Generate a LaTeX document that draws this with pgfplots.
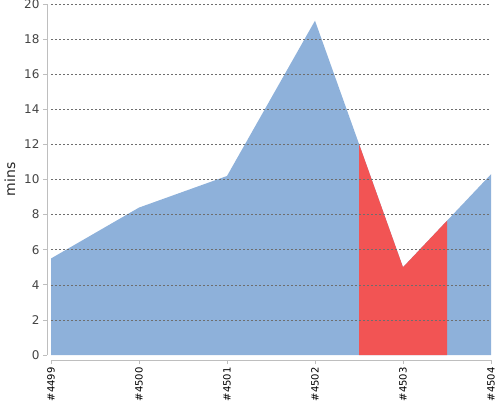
\documentclass[border=0pt]{standalone}
\usepackage{pgfplots}
\pgfplotsset{compat=1.18}
\usepackage{fontspec}
\setmainfont{DejaVu Sans}
\setsansfont{DejaVu Sans}
\definecolor{areablue}{RGB}{142,177,218}
\definecolor{areared}{RGB}{242,84,84}
\definecolor{axgray}{RGB}{190,190,190}
\definecolor{ticktext}{RGB}{68,68,68}
\definecolor{gridgray}{RGB}{110,110,110}
\begin{document}
\begin{tikzpicture}
\begin{axis}[
  name=ax,
  scale only axis,
  width=440bp, height=351bp,
  xmin=0, xmax=5, ymin=0, ymax=20,
  axis lines=left,
  axis x line shift=5bp,
  axis y line shift=4bp,
  axis line style={axgray, line width=0.8pt, -},
  xtick={0,1,2,3,4,5},
  xticklabels={\#4499,\#4500,\#4501,\#4502,\#4503,\#4504},
  x tick label style={rotate=90, anchor=east, font=\fontsize{10bp}{12bp}\selectfont, black},
  ytick={2,4,...,20},
  extra y ticks={0},
  extra y tick style={grid=none},
  y tick label style={font=\fontsize{12bp}{14bp}\selectfont, ticktext},
  /pgf/number format/assume math mode=true,
  tick style={axgray, line width=0.8pt},
  major tick length=4bp,
  tick align=outside,
  ymajorgrids,
  major grid style={gridgray, line width=0.5pt, dash pattern=on 2bp off 2bp},
  ylabel={mins},
  ylabel style={font=\fontsize{14bp}{16bp}\selectfont, black!85, at={(axis description cs:-0.073,0.5)}, anchor=south},
  axis on top,
  clip=false,
]
\addplot[draw=none, fill=areablue] coordinates {
 (0,0) (0,5.5) (1,8.4) (2,10.2) (3,19.05) (4,5.0) (5,10.3) (5,0)
} -- cycle;
\addplot[draw=none, fill=areared] coordinates {
 (3.5,0) (3.5,12.03) (4,5.0) (4.5,7.65) (4.5,0)
} -- cycle;
\end{axis}
\pgfresetboundingbox
\path ([xshift=-51bp,yshift=-45bp]ax.south west) rectangle ([xshift=9bp,yshift=4bp]ax.north east);
\end{tikzpicture}
\end{document}
